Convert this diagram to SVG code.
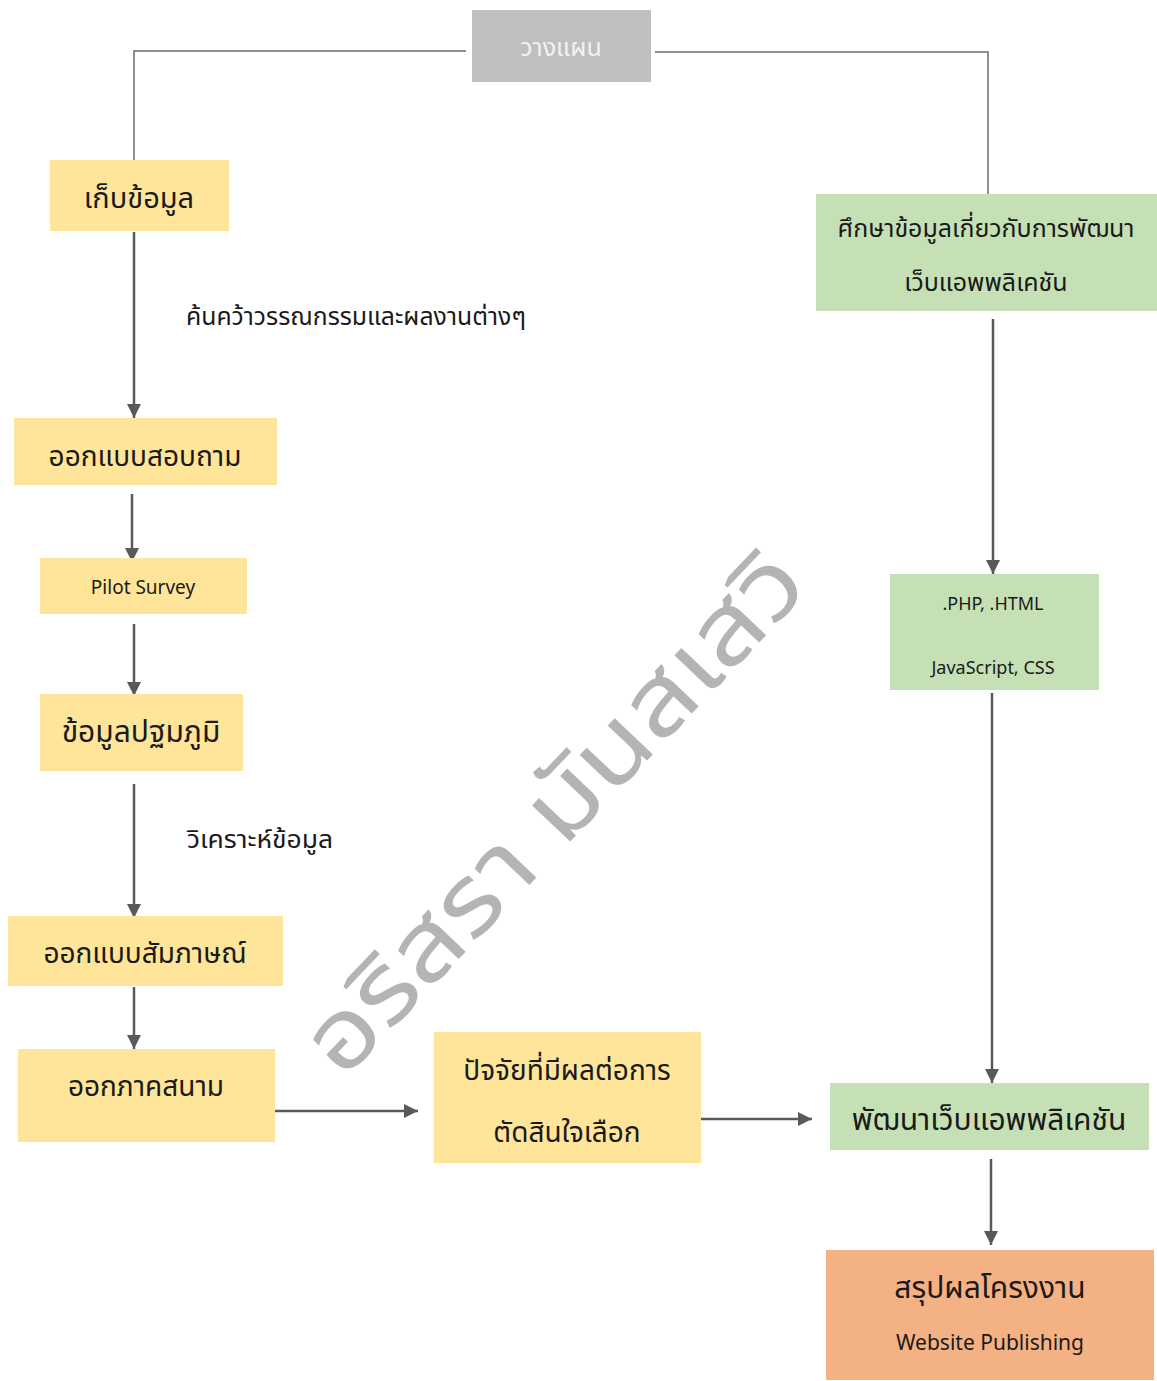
<svg xmlns="http://www.w3.org/2000/svg" width="1157" height="1381" viewBox="0 0 1157 1381">
<defs>
<marker id="ah" markerUnits="userSpaceOnUse" markerWidth="14" markerHeight="14" refX="14" refY="7" orient="auto">
<path d="M0,0 L14,7 L0,14 z" fill="#595959"/>
</marker>
<style>
text{font-family:"Noto Sans Thai","Leelawadee UI","Noto Sans","DejaVu Sans",sans-serif;fill:#1a1a1a;text-anchor:middle}
.y{fill:#ffe599}
.g{fill:#c5e0b4}
.o{fill:#f4b183}
.p{fill:#bfbfbf}
.thin{stroke:#6b6b6b;stroke-width:1.5;fill:none}
.arr{stroke:#595959;stroke-width:2.5;fill:none;marker-end:url(#ah)}
.lbl{text-anchor:start;font-size:24px}
</style>
</defs>
<rect width="1157" height="1381" fill="#ffffff"/>

<g id="watermark">
<text transform="translate(552,810) rotate(-46.5)" x="0" y="35" font-size="96" style="fill:#b4b4b4" textLength="680" lengthAdjust="spacingAndGlyphs">อริสรา มันสเสวิ</text>
</g>

<g id="connectors">
<polyline class="thin" points="466,51 134,51 134,160"/>
<polyline class="thin" points="655,52 988,52 988,194"/>
<line class="arr" x1="134" y1="232" x2="134" y2="418"/>
<line class="arr" x1="132" y1="494" x2="132" y2="562"/>
<line class="arr" x1="134" y1="624" x2="134" y2="696"/>
<line class="arr" x1="134" y1="784" x2="134" y2="918"/>
<line class="arr" x1="134" y1="987" x2="134" y2="1049"/>
<line class="arr" x1="275" y1="1111" x2="418" y2="1111"/>
<line class="arr" x1="701" y1="1119" x2="812" y2="1119"/>
<line class="arr" x1="993" y1="319" x2="993" y2="574"/>
<line class="arr" x1="992" y1="693" x2="992" y2="1083"/>
<line class="arr" x1="991" y1="1159" x2="991" y2="1245"/>
<text class="lbl" x="186" y="325" textLength="340" lengthAdjust="spacingAndGlyphs">ค้นคว้าวรรณกรรมและผลงานต่างๆ</text>
<text class="lbl" x="187" y="848" textLength="146" lengthAdjust="spacingAndGlyphs">วิเคราะห์ข้อมูล</text>
</g>

<g id="n-plan">
<rect class="p" x="472" y="10" width="179" height="72"/>
<text x="561" y="56" font-size="25" style="fill:#f2f2f2">วางแผน</text>
</g>
<g id="n-collect">
<rect class="y" x="50" y="160" width="179" height="71"/>
<text x="139" y="208" font-size="29">เก็บข้อมูล</text>
</g>
<g id="n-study">
<rect class="g" x="816" y="194" width="341" height="117"/>
<text x="986" y="237" font-size="25">ศึกษาข้อมูลเกี่ยวกับการพัฒนา</text>
<text x="986" y="291" font-size="25">เว็บแอพพลิเคชัน</text>
</g>
<g id="n-questionnaire">
<rect class="y" x="14" y="418" width="263" height="67"/>
<text x="145" y="466" font-size="28">ออกแบบสอบถาม</text>
</g>
<g id="n-pilot">
<rect class="y" x="40" y="558" width="207" height="56"/>
<text x="143" y="594" font-size="19">Pilot Survey</text>
</g>
<g id="n-primary">
<rect class="y" x="40" y="694" width="203" height="77"/>
<text x="141" y="742" font-size="30">ข้อมูลปฐมภูมิ</text>
</g>
<g id="n-interview">
<rect class="y" x="8" y="916" width="275" height="70"/>
<text x="145" y="963" font-size="28">ออกแบบสัมภาษณ์</text>
</g>
<g id="n-field">
<rect class="y" x="18" y="1049" width="257" height="93"/>
<text x="146" y="1096" font-size="28">ออกภาคสนาม</text>
</g>
<g id="n-factors">
<rect class="y" x="434" y="1032" width="267" height="131"/>
<text x="567" y="1080" font-size="28">ปัจจัยที่มีผลต่อการ</text>
<text x="567" y="1142" font-size="28">ตัดสินใจเลือก</text>
</g>
<g id="n-tech">
<rect class="g" x="890" y="574" width="209" height="116"/>
<text x="993" y="610" font-size="18">.PHP, .HTML</text>
<text x="993" y="674" font-size="18">JavaScript, CSS</text>
</g>
<g id="n-develop">
<rect class="g" x="830" y="1083" width="319" height="67"/>
<text x="989" y="1130" font-size="30">พัฒนาเว็บแอพพลิเคชัน</text>
</g>
<g id="n-summary">
<rect class="o" x="826" y="1250" width="328" height="130"/>
<text x="990" y="1298" font-size="30">สรุปผลโครงงาน</text>
<text x="990" y="1350" font-size="21">Website Publishing</text>
</g>
</svg>
